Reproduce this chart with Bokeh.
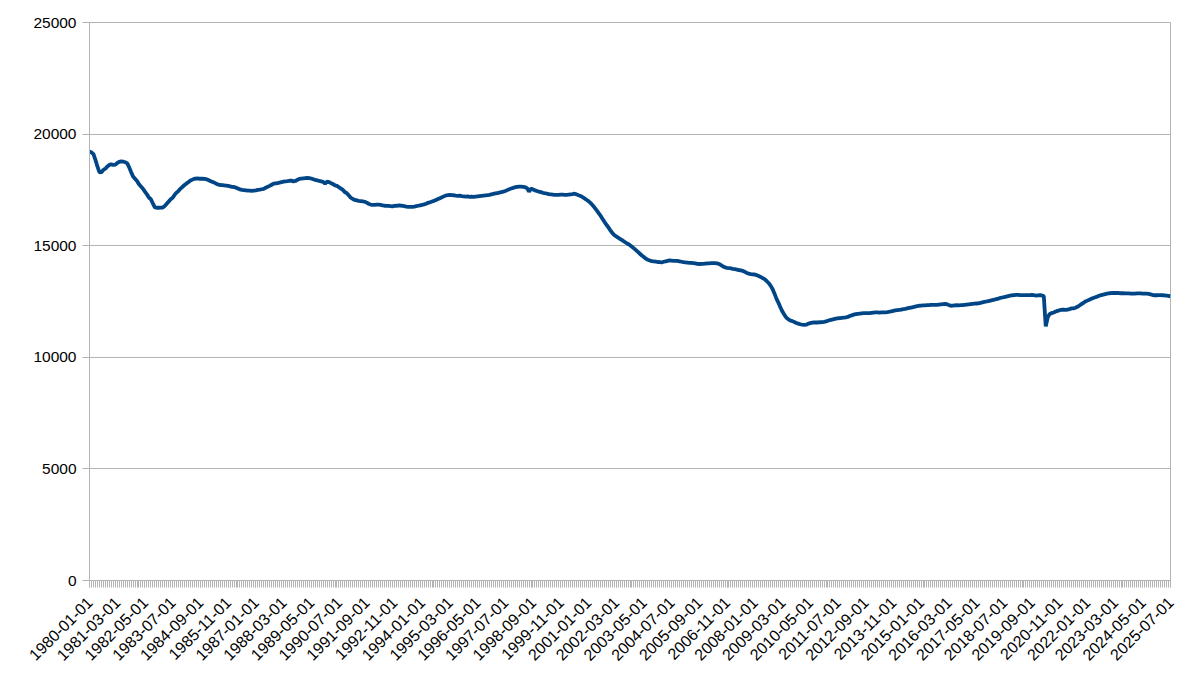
from math import pi

from bokeh.embed import file_html
from bokeh.models import ColumnDataSource, FixedTicker, Range1d
from bokeh.plotting import figure
from bokeh.resources import INLINE

# ------------------------------------------------
# Data: one value per month, 1980-01 .. 2025-07
# ------------------------------------------------
valores = [
    # 1980
    19220, 19180, 19100, 18850, 18550, 18300, 18280, 18400, 18450, 18550, 18620, 18640,
    # 1981
    18620, 18630, 18700, 18760, 18780, 18770, 18740, 18700, 18520, 18300, 18100, 18000,
    # 1982
    17900, 17750, 17650, 17550, 17420, 17300, 17160, 17080, 16900, 16720, 16700, 16700,
    # 1983
    16710, 16710, 16780, 16880, 16980, 17080, 17150, 17280, 17380, 17460, 17560, 17640,
    # 1984
    17720, 17790, 17850, 17920, 17960, 18000, 18010, 18010, 18000, 18000, 17990, 17980,
    # 1985
    17940, 17900, 17860, 17830, 17780, 17740, 17720, 17710, 17700, 17690, 17680, 17660,
    # 1986
    17640, 17630, 17600, 17560, 17520, 17500, 17490, 17480, 17470, 17470, 17460, 17470,
    # 1987
    17480, 17500, 17510, 17530, 17550, 17600, 17640, 17680, 17730, 17780, 17790, 17800,
    # 1988
    17830, 17850, 17870, 17880, 17890, 17910, 17920, 17880, 17900, 17950, 17990, 18010,
    # 1989
    18020, 18030, 18040, 18030, 18010, 17980, 17950, 17930, 17900, 17880, 17860, 17780,
    # 1990
    17870, 17850, 17800, 17760, 17700, 17680, 17620, 17560, 17500, 17400, 17350, 17250,
    # 1991
    17150, 17090, 17050, 17030, 17010, 17000, 16990, 16970, 16930, 16880, 16840, 16830,
    # 1992
    16830, 16840, 16840, 16830, 16810, 16790, 16780, 16780, 16770, 16760, 16780, 16790,
    # 1993
    16800, 16800, 16790, 16770, 16750, 16740, 16740, 16740, 16750, 16770, 16790, 16810,
    # 1994
    16830, 16850, 16880, 16920, 16950, 16980, 17010, 17050, 17090, 17130, 17170, 17210,
    # 1995
    17250, 17270, 17280, 17270, 17260, 17240, 17230, 17240, 17220, 17210, 17200, 17210,
    # 1996
    17190, 17200, 17190, 17200, 17210, 17220, 17230, 17240, 17250, 17270, 17280, 17300,
    # 1997
    17320, 17340, 17360, 17380, 17400, 17420, 17450, 17490, 17530, 17560, 17590, 17620,
    # 1998
    17640, 17650, 17650, 17640, 17620, 17580, 17420, 17560, 17520, 17480, 17450, 17420,
    # 1999
    17400, 17370, 17350, 17330, 17310, 17300, 17290, 17280, 17280, 17280, 17290, 17290,
    # 2000
    17280, 17280, 17290, 17300, 17310, 17330, 17300, 17260, 17230, 17180, 17120, 17060,
    # 2001
    17000, 16920, 16820, 16720, 16600, 16480, 16360, 16220, 16080, 15950, 15830, 15700,
    # 2002
    15580, 15480, 15420, 15360, 15300, 15250, 15190, 15130, 15080, 15020, 14950, 14880,
    # 2003
    14800, 14720, 14640, 14560, 14490, 14420, 14370, 14340, 14310, 14300, 14290, 14270,
    # 2004
    14260, 14250, 14280, 14300, 14320, 14340, 14330, 14320, 14320, 14320, 14300, 14280,
    # 2005
    14260, 14250, 14240, 14230, 14230, 14220, 14210, 14190, 14180, 14190, 14190, 14200,
    # 2006
    14210, 14210, 14220, 14220, 14220, 14210, 14180, 14130, 14070, 14030, 14010, 14000,
    # 2007
    13980, 13960, 13950, 13930, 13910, 13890, 13870, 13830, 13780, 13750, 13730, 13720,
    # 2008
    13710, 13680, 13640, 13600, 13550, 13500, 13420, 13330, 13210, 13060, 12850, 12620,
    # 2009
    12440, 12230, 12050, 11900, 11770, 11700, 11650, 11620, 11580, 11540, 11510, 11480,
    # 2010
    11460, 11450, 11460, 11500, 11530, 11550, 11560, 11560, 11560, 11570, 11580, 11590,
    # 2011
    11610, 11640, 11670, 11690, 11710, 11730, 11750, 11760, 11770, 11780, 11790, 11810,
    # 2012
    11850, 11880, 11910, 11930, 11950, 11960, 11970, 11980, 11980, 11980, 11980, 11990,
    # 2013
    12000, 12010, 12010, 12000, 12010, 12010, 12010, 12020, 12040, 12060, 12080, 12100,
    # 2014
    12110, 12120, 12140, 12160, 12170, 12190, 12210, 12230, 12250, 12270, 12290, 12310,
    # 2015
    12320, 12330, 12330, 12340, 12340, 12350, 12350, 12350, 12350, 12360, 12370, 12380,
    # 2016
    12390, 12380, 12340, 12310, 12320, 12330, 12340, 12330, 12340, 12340, 12350, 12360,
    # 2017
    12370, 12380, 12390, 12400, 12410, 12420, 12440, 12460, 12480, 12500, 12520, 12540,
    # 2018
    12560, 12580, 12610, 12630, 12660, 12680, 12700, 12720, 12740, 12760, 12780, 12790,
    # 2019
    12800, 12800, 12790, 12790, 12790, 12790, 12790, 12790, 12800, 12790, 12760, 12770,
    # 2020
    12780, 12770, 12740, 11390, 11800, 11940, 11980, 12010, 12050, 12080, 12110, 12130,
    # 2021
    12130, 12120, 12140, 12160, 12190, 12190, 12220, 12260, 12320, 12380, 12440, 12500,
    # 2022
    12540, 12580, 12620, 12660, 12690, 12720, 12760, 12790, 12810, 12830, 12850, 12870,
    # 2023
    12880, 12880, 12880, 12880, 12880, 12870, 12870, 12860, 12860, 12860, 12850, 12850,
    # 2024
    12850, 12860, 12860, 12860, 12850, 12850, 12850, 12840, 12820, 12790, 12780, 12780,
    # 2025
    12790, 12790, 12780, 12770, 12760, 12750, 12730,
]

# tick labels: first day of each month
fechas = [f"{1980 + i // 12}-{i % 12 + 1:02d}-01" for i in range(len(valores))]
paso_etiquetas = 14
y_ticks = [0, 5000, 10000, 15000, 20000, 25000]

GRIS = "#b3b3b3"
FUENTE = "Liberation Sans"

datos = ColumnDataSource(data={
    "mes": list(range(len(valores))),
    "valor": valores,
})

p = figure(
    width=1192, height=668,
    output_backend="svg", toolbar_location=None,
    x_range=Range1d(0, len(valores) - 1), y_range=Range1d(0, 25000),
    min_border_left=89, min_border_right=22,
    min_border_top=22, min_border_bottom=88,
)

p.line("mes", "valor", source=datos, line_color="#004586", line_width=3.8)

# ------------------------------------------------
# Axes
# ------------------------------------------------
p.xaxis.ticker = FixedTicker(
    ticks=list(range(0, len(valores), paso_etiquetas)),
    minor_ticks=list(range(len(valores))),
)
p.xaxis.major_label_overrides = {i: fechas[i] for i in range(0, len(valores), paso_etiquetas)}
p.xaxis.major_label_orientation = pi / 4
p.yaxis.ticker = FixedTicker(ticks=y_ticks)

for ax in (p.xaxis, p.yaxis):
    ax.axis_line_color = GRIS
    ax.major_tick_line_color = GRIS
    ax.minor_tick_line_color = GRIS
    ax.major_tick_out = 7
    ax.major_tick_in = 0
    ax.minor_tick_out = 7
    ax.minor_tick_in = 0
    ax.major_label_text_font = FUENTE
    ax.major_label_text_color = "#000000"

p.yaxis.major_label_text_font_size = "15.5px"
p.yaxis.major_label_standoff = 6
p.xaxis.major_label_text_font_size = "16px"
p.xaxis.major_label_standoff = 12
p.yaxis.minor_tick_line_color = None

p.xgrid.grid_line_color = None
p.ygrid.grid_line_color = GRIS
p.outline_line_color = GRIS
p.background_fill_color = "white"
p.border_fill_color = "white"

open("out.html", "w").write(file_html(p, INLINE))
